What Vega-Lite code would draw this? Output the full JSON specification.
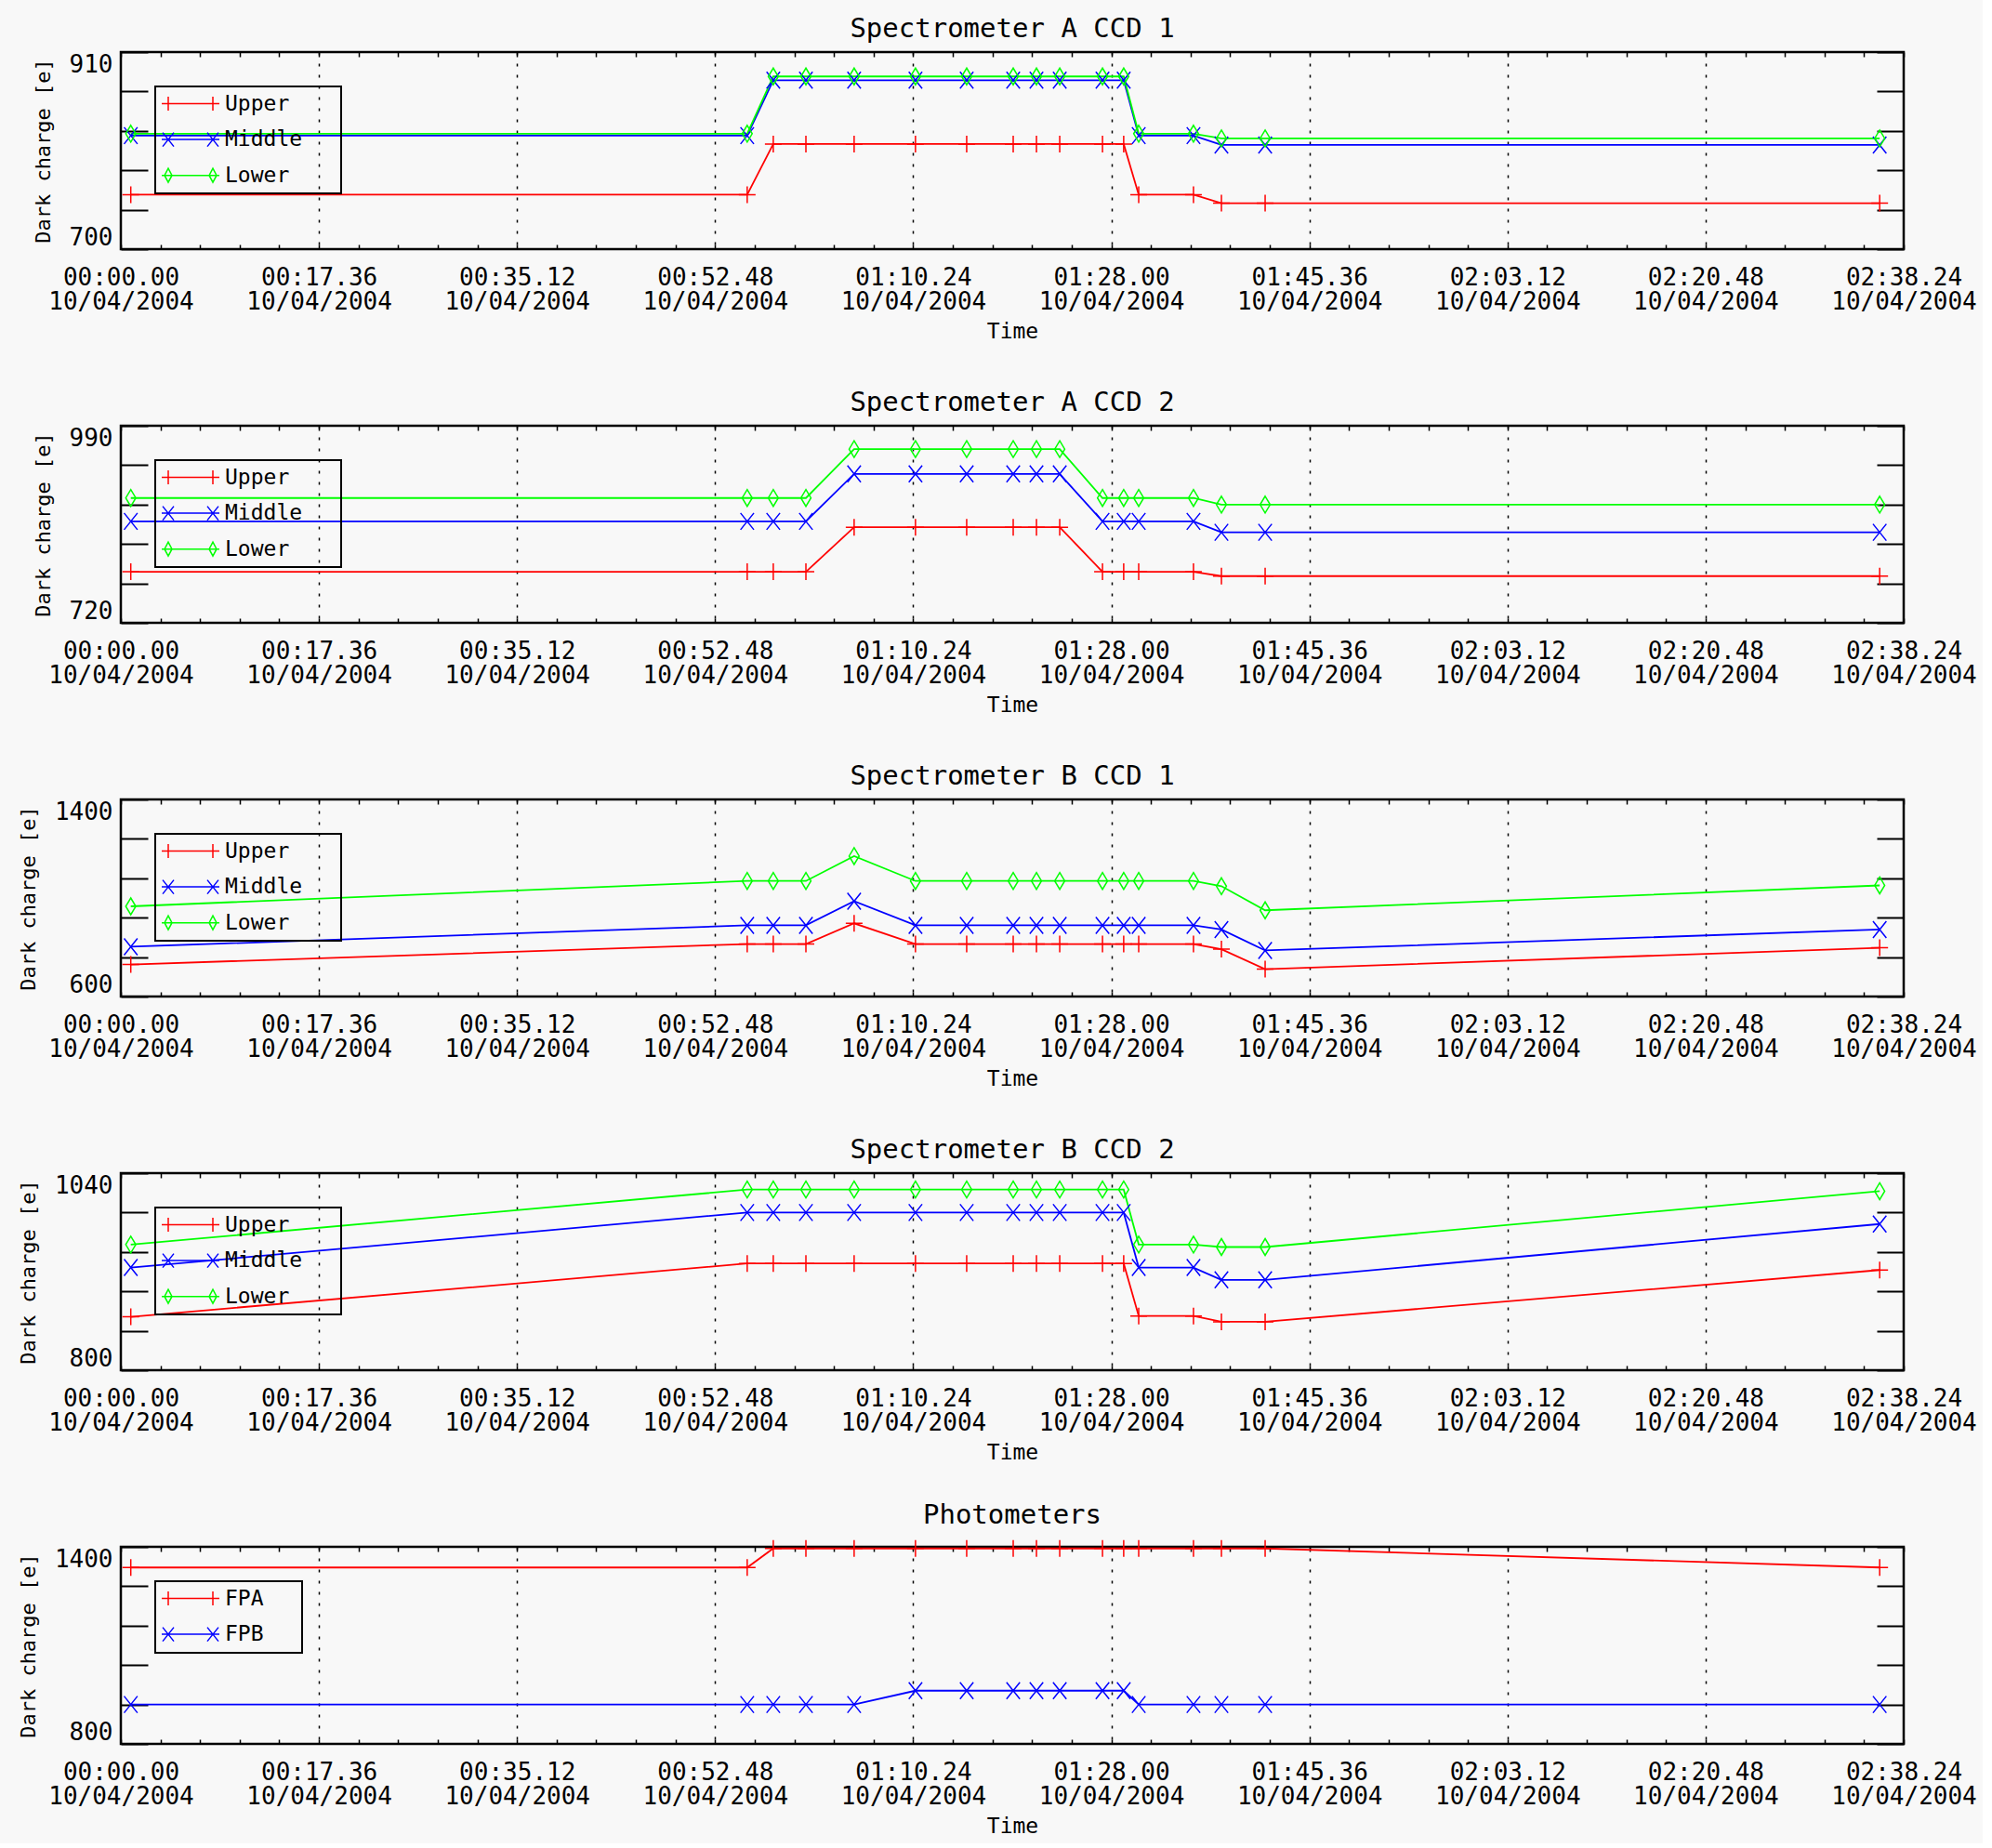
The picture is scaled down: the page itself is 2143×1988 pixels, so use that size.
{
  "$schema": "https://vega.github.io/schema/vega-lite/v6.json",
  "background": "#f8f8f8",
  "padding": {"left": 18, "top": 15, "right": 5, "bottom": 5},
  "bounds": "flush",
  "spacing": 190,
  "config": {
    "view": {"stroke": "black", "strokeWidth": 2.5},
    "font": "DejaVu Sans Mono",
    "axis": {"domain": false, "labelFont": "DejaVu Sans Mono", "labelFontSize": 26, "labelColor": "black", "titleFont": "DejaVu Sans Mono", "titleFontWeight": "normal", "titleColor": "black", "tickColor": "black", "grid": false},
    "legend": {"orient": "none", "legendX": 37, "legendY": 37, "title": null, "padding": 7, "rowPadding": 14.6, "labelOffset": 45, "labelFont": "DejaVu Sans Mono", "labelFontSize": 23, "labelColor": "black", "strokeColor": "black", "strokeWidth": 2, "symbolSize": 400, "symbolStrokeWidth": 1.5, "symbolOpacity": 1, "symbolFillColor": "transparent"},
    "title": {"font": "DejaVu Sans Mono", "fontSize": 29, "fontWeight": "normal", "color": "black", "anchor": "middle", "offset": 9}
  },
  "data": {"values": [
    {"p":"A1","s":"Upper","t":53,"v":758},{"p":"A1","s":"Upper","t":3339,"v":758},{"p":"A1","s":"Upper","t":3478,"v":812},{"p":"A1","s":"Upper","t":3652,"v":812},{"p":"A1","s":"Upper","t":3909,"v":812},{"p":"A1","s":"Upper","t":4236,"v":812},{"p":"A1","s":"Upper","t":4509,"v":812},{"p":"A1","s":"Upper","t":4757,"v":812},{"p":"A1","s":"Upper","t":4881,"v":812},{"p":"A1","s":"Upper","t":5005,"v":812},{"p":"A1","s":"Upper","t":5233,"v":812},{"p":"A1","s":"Upper","t":5346,"v":812},{"p":"A1","s":"Upper","t":5426,"v":758},{"p":"A1","s":"Upper","t":5718,"v":758},{"p":"A1","s":"Upper","t":5867,"v":749},{"p":"A1","s":"Upper","t":6100,"v":749},{"p":"A1","s":"Upper","t":9376,"v":749},
    {"p":"A1","s":"Middle","t":53,"v":821},{"p":"A1","s":"Middle","t":3339,"v":821},{"p":"A1","s":"Middle","t":3478,"v":880},{"p":"A1","s":"Middle","t":3652,"v":880},{"p":"A1","s":"Middle","t":3909,"v":880},{"p":"A1","s":"Middle","t":4236,"v":880},{"p":"A1","s":"Middle","t":4509,"v":880},{"p":"A1","s":"Middle","t":4757,"v":880},{"p":"A1","s":"Middle","t":4881,"v":880},{"p":"A1","s":"Middle","t":5005,"v":880},{"p":"A1","s":"Middle","t":5233,"v":880},{"p":"A1","s":"Middle","t":5346,"v":880},{"p":"A1","s":"Middle","t":5426,"v":821},{"p":"A1","s":"Middle","t":5718,"v":821},{"p":"A1","s":"Middle","t":5867,"v":811},{"p":"A1","s":"Middle","t":6100,"v":811},{"p":"A1","s":"Middle","t":9376,"v":811},
    {"p":"A1","s":"Lower","t":53,"v":823},{"p":"A1","s":"Lower","t":3339,"v":823},{"p":"A1","s":"Lower","t":3478,"v":884},{"p":"A1","s":"Lower","t":3652,"v":884},{"p":"A1","s":"Lower","t":3909,"v":884},{"p":"A1","s":"Lower","t":4236,"v":884},{"p":"A1","s":"Lower","t":4509,"v":884},{"p":"A1","s":"Lower","t":4757,"v":884},{"p":"A1","s":"Lower","t":4881,"v":884},{"p":"A1","s":"Lower","t":5005,"v":884},{"p":"A1","s":"Lower","t":5233,"v":884},{"p":"A1","s":"Lower","t":5346,"v":884},{"p":"A1","s":"Lower","t":5426,"v":823},{"p":"A1","s":"Lower","t":5718,"v":823},{"p":"A1","s":"Lower","t":5867,"v":818},{"p":"A1","s":"Lower","t":6100,"v":818},{"p":"A1","s":"Lower","t":9376,"v":818},
    {"p":"A2","s":"Upper","t":53,"v":790},{"p":"A2","s":"Upper","t":3339,"v":790},{"p":"A2","s":"Upper","t":3478,"v":790},{"p":"A2","s":"Upper","t":3652,"v":790},{"p":"A2","s":"Upper","t":3909,"v":851},{"p":"A2","s":"Upper","t":4236,"v":851},{"p":"A2","s":"Upper","t":4509,"v":851},{"p":"A2","s":"Upper","t":4757,"v":851},{"p":"A2","s":"Upper","t":4881,"v":851},{"p":"A2","s":"Upper","t":5005,"v":851},{"p":"A2","s":"Upper","t":5233,"v":790},{"p":"A2","s":"Upper","t":5346,"v":790},{"p":"A2","s":"Upper","t":5426,"v":790},{"p":"A2","s":"Upper","t":5718,"v":790},{"p":"A2","s":"Upper","t":5867,"v":784},{"p":"A2","s":"Upper","t":6100,"v":784},{"p":"A2","s":"Upper","t":9376,"v":784},
    {"p":"A2","s":"Middle","t":53,"v":859},{"p":"A2","s":"Middle","t":3339,"v":859},{"p":"A2","s":"Middle","t":3478,"v":859},{"p":"A2","s":"Middle","t":3652,"v":859},{"p":"A2","s":"Middle","t":3909,"v":924},{"p":"A2","s":"Middle","t":4236,"v":924},{"p":"A2","s":"Middle","t":4509,"v":924},{"p":"A2","s":"Middle","t":4757,"v":924},{"p":"A2","s":"Middle","t":4881,"v":924},{"p":"A2","s":"Middle","t":5005,"v":924},{"p":"A2","s":"Middle","t":5233,"v":859},{"p":"A2","s":"Middle","t":5346,"v":859},{"p":"A2","s":"Middle","t":5426,"v":859},{"p":"A2","s":"Middle","t":5718,"v":859},{"p":"A2","s":"Middle","t":5867,"v":844},{"p":"A2","s":"Middle","t":6100,"v":844},{"p":"A2","s":"Middle","t":9376,"v":844},
    {"p":"A2","s":"Lower","t":53,"v":891},{"p":"A2","s":"Lower","t":3339,"v":891},{"p":"A2","s":"Lower","t":3478,"v":891},{"p":"A2","s":"Lower","t":3652,"v":891},{"p":"A2","s":"Lower","t":3909,"v":958},{"p":"A2","s":"Lower","t":4236,"v":958},{"p":"A2","s":"Lower","t":4509,"v":958},{"p":"A2","s":"Lower","t":4757,"v":958},{"p":"A2","s":"Lower","t":4881,"v":958},{"p":"A2","s":"Lower","t":5005,"v":958},{"p":"A2","s":"Lower","t":5233,"v":891},{"p":"A2","s":"Lower","t":5346,"v":891},{"p":"A2","s":"Lower","t":5426,"v":891},{"p":"A2","s":"Lower","t":5718,"v":891},{"p":"A2","s":"Lower","t":5867,"v":882},{"p":"A2","s":"Lower","t":6100,"v":882},{"p":"A2","s":"Lower","t":9376,"v":882},
    {"p":"B1","s":"Upper","t":53,"v":730},{"p":"B1","s":"Upper","t":3339,"v":813},{"p":"B1","s":"Upper","t":3478,"v":813},{"p":"B1","s":"Upper","t":3652,"v":813},{"p":"B1","s":"Upper","t":3909,"v":897},{"p":"B1","s":"Upper","t":4236,"v":813},{"p":"B1","s":"Upper","t":4509,"v":813},{"p":"B1","s":"Upper","t":4757,"v":813},{"p":"B1","s":"Upper","t":4881,"v":813},{"p":"B1","s":"Upper","t":5005,"v":813},{"p":"B1","s":"Upper","t":5233,"v":813},{"p":"B1","s":"Upper","t":5346,"v":813},{"p":"B1","s":"Upper","t":5426,"v":813},{"p":"B1","s":"Upper","t":5718,"v":813},{"p":"B1","s":"Upper","t":5867,"v":792},{"p":"B1","s":"Upper","t":6100,"v":711},{"p":"B1","s":"Upper","t":9376,"v":798},
    {"p":"B1","s":"Middle","t":53,"v":802},{"p":"B1","s":"Middle","t":3339,"v":889},{"p":"B1","s":"Middle","t":3478,"v":889},{"p":"B1","s":"Middle","t":3652,"v":889},{"p":"B1","s":"Middle","t":3909,"v":987},{"p":"B1","s":"Middle","t":4236,"v":889},{"p":"B1","s":"Middle","t":4509,"v":889},{"p":"B1","s":"Middle","t":4757,"v":889},{"p":"B1","s":"Middle","t":4881,"v":889},{"p":"B1","s":"Middle","t":5005,"v":889},{"p":"B1","s":"Middle","t":5233,"v":889},{"p":"B1","s":"Middle","t":5346,"v":889},{"p":"B1","s":"Middle","t":5426,"v":889},{"p":"B1","s":"Middle","t":5718,"v":889},{"p":"B1","s":"Middle","t":5867,"v":872},{"p":"B1","s":"Middle","t":6100,"v":787},{"p":"B1","s":"Middle","t":9376,"v":872},
    {"p":"B1","s":"Lower","t":53,"v":966},{"p":"B1","s":"Lower","t":3339,"v":1069},{"p":"B1","s":"Lower","t":3478,"v":1069},{"p":"B1","s":"Lower","t":3652,"v":1069},{"p":"B1","s":"Lower","t":3909,"v":1170},{"p":"B1","s":"Lower","t":4236,"v":1069},{"p":"B1","s":"Lower","t":4509,"v":1069},{"p":"B1","s":"Lower","t":4757,"v":1069},{"p":"B1","s":"Lower","t":4881,"v":1069},{"p":"B1","s":"Lower","t":5005,"v":1069},{"p":"B1","s":"Lower","t":5233,"v":1069},{"p":"B1","s":"Lower","t":5346,"v":1069},{"p":"B1","s":"Lower","t":5426,"v":1069},{"p":"B1","s":"Lower","t":5718,"v":1069},{"p":"B1","s":"Lower","t":5867,"v":1048},{"p":"B1","s":"Lower","t":6100,"v":950},{"p":"B1","s":"Lower","t":9376,"v":1051},
    {"p":"B2","s":"Upper","t":53,"v":865},{"p":"B2","s":"Upper","t":3339,"v":930},{"p":"B2","s":"Upper","t":3478,"v":930},{"p":"B2","s":"Upper","t":3652,"v":930},{"p":"B2","s":"Upper","t":3909,"v":930},{"p":"B2","s":"Upper","t":4236,"v":930},{"p":"B2","s":"Upper","t":4509,"v":930},{"p":"B2","s":"Upper","t":4757,"v":930},{"p":"B2","s":"Upper","t":4881,"v":930},{"p":"B2","s":"Upper","t":5005,"v":930},{"p":"B2","s":"Upper","t":5233,"v":930},{"p":"B2","s":"Upper","t":5346,"v":930},{"p":"B2","s":"Upper","t":5426,"v":866},{"p":"B2","s":"Upper","t":5718,"v":866},{"p":"B2","s":"Upper","t":5867,"v":859},{"p":"B2","s":"Upper","t":6100,"v":859},{"p":"B2","s":"Upper","t":9376,"v":922},
    {"p":"B2","s":"Middle","t":53,"v":925},{"p":"B2","s":"Middle","t":3339,"v":992},{"p":"B2","s":"Middle","t":3478,"v":992},{"p":"B2","s":"Middle","t":3652,"v":992},{"p":"B2","s":"Middle","t":3909,"v":992},{"p":"B2","s":"Middle","t":4236,"v":992},{"p":"B2","s":"Middle","t":4509,"v":992},{"p":"B2","s":"Middle","t":4757,"v":992},{"p":"B2","s":"Middle","t":4881,"v":992},{"p":"B2","s":"Middle","t":5005,"v":992},{"p":"B2","s":"Middle","t":5233,"v":992},{"p":"B2","s":"Middle","t":5346,"v":992},{"p":"B2","s":"Middle","t":5426,"v":925},{"p":"B2","s":"Middle","t":5718,"v":925},{"p":"B2","s":"Middle","t":5867,"v":910},{"p":"B2","s":"Middle","t":6100,"v":910},{"p":"B2","s":"Middle","t":9376,"v":978},
    {"p":"B2","s":"Lower","t":53,"v":953},{"p":"B2","s":"Lower","t":3339,"v":1020},{"p":"B2","s":"Lower","t":3478,"v":1020},{"p":"B2","s":"Lower","t":3652,"v":1020},{"p":"B2","s":"Lower","t":3909,"v":1020},{"p":"B2","s":"Lower","t":4236,"v":1020},{"p":"B2","s":"Lower","t":4509,"v":1020},{"p":"B2","s":"Lower","t":4757,"v":1020},{"p":"B2","s":"Lower","t":4881,"v":1020},{"p":"B2","s":"Lower","t":5005,"v":1020},{"p":"B2","s":"Lower","t":5233,"v":1020},{"p":"B2","s":"Lower","t":5346,"v":1020},{"p":"B2","s":"Lower","t":5426,"v":953},{"p":"B2","s":"Lower","t":5718,"v":953},{"p":"B2","s":"Lower","t":5867,"v":950},{"p":"B2","s":"Lower","t":6100,"v":950},{"p":"B2","s":"Lower","t":9376,"v":1018},
    {"p":"P","s":"FPA","t":53,"v":1337},{"p":"P","s":"FPA","t":3339,"v":1337},{"p":"P","s":"FPA","t":3478,"v":1395},{"p":"P","s":"FPA","t":3652,"v":1395},{"p":"P","s":"FPA","t":3909,"v":1395},{"p":"P","s":"FPA","t":4236,"v":1395},{"p":"P","s":"FPA","t":4509,"v":1395},{"p":"P","s":"FPA","t":4757,"v":1395},{"p":"P","s":"FPA","t":4881,"v":1395},{"p":"P","s":"FPA","t":5005,"v":1395},{"p":"P","s":"FPA","t":5233,"v":1395},{"p":"P","s":"FPA","t":5346,"v":1395},{"p":"P","s":"FPA","t":5426,"v":1395},{"p":"P","s":"FPA","t":5718,"v":1395},{"p":"P","s":"FPA","t":5867,"v":1395},{"p":"P","s":"FPA","t":6100,"v":1395},{"p":"P","s":"FPA","t":9376,"v":1337},
    {"p":"P","s":"FPB","t":53,"v":920},{"p":"P","s":"FPB","t":3339,"v":920},{"p":"P","s":"FPB","t":3478,"v":920},{"p":"P","s":"FPB","t":3652,"v":920},{"p":"P","s":"FPB","t":3909,"v":920},{"p":"P","s":"FPB","t":4236,"v":962},{"p":"P","s":"FPB","t":4509,"v":962},{"p":"P","s":"FPB","t":4757,"v":962},{"p":"P","s":"FPB","t":4881,"v":962},{"p":"P","s":"FPB","t":5005,"v":962},{"p":"P","s":"FPB","t":5233,"v":962},{"p":"P","s":"FPB","t":5346,"v":962},{"p":"P","s":"FPB","t":5426,"v":920},{"p":"P","s":"FPB","t":5718,"v":920},{"p":"P","s":"FPB","t":5867,"v":920},{"p":"P","s":"FPB","t":6100,"v":920},{"p":"P","s":"FPB","t":9376,"v":920}
  ]},
  "resolve": {"scale": {"x": "independent", "y": "independent", "color": "independent", "shape": "independent"}, "legend": {"color": "independent", "shape": "independent"}},
  "vconcat": [
    {
      "title": "Spectrometer A CCD 1",
      "width": 1918, "height": 212,
      "transform": [{"filter": "datum.p === 'A1'"}],
      "layer": [
        {"mark": {"type": "line", "strokeWidth": 1.8},
         "encoding": {
           "x": {"field": "t", "type": "quantitative", "scale": {"domain": [0, 9504], "nice": false, "zero": false},
             "axis": {"orient": "bottom", "title": "Time", "titleFontSize": 23, "titlePadding": 8, "values": [0,211.2,422.4,633.6,844.8,1056,1267.2,1478.4,1689.6,1900.8,2112,2323.2,2534.4,2745.6,2956.8,3168,3379.2,3590.4,3801.6,4012.8,4224,4435.2,4646.4,4857.6,5068.8,5280,5491.2,5702.4,5913.6,6124.8,6336,6547.2,6758.4,6969.6,7180.8,7392,7603.2,7814.4,8025.6,8236.8,8448,8659.2,8870.4,9081.6,9292.8,9504],
               "labelExpr": "abs(datum.value/1056 - round(datum.value/1056)) < 0.001 ? [format(floor(datum.value/3600),'02d') + ':' + format(floor((datum.value%3600)/60),'02d') + '.' + format(round(datum.value%60),'02d'), '10/04/2004'] : ''",
               "labelFlush": false, "labelOverlap": false, "labelPadding": 22, "labelLineHeight": 26, "tickSize": -5, "tickWidth": 1.5,
               "grid": true, "gridColor": "black", "gridDash": [3, 9], "gridWidth": 1.5,
               "gridOpacity": {"condition": {"test": "abs(datum.value/1056 - round(datum.value/1056)) < 0.001 && datum.value > 1 && datum.value < 9500", "value": 1}, "value": 0}}},
           "y": {"field": "v", "type": "quantitative", "scale": {"domain": [700, 910], "nice": false, "zero": false},
             "axis": {"orient": "left", "title": "Dark charge [e]", "titleFontSize": 22, "titlePadding": 16, "values": [700, 742, 784, 826, 868, 910], "format": "d", "labelExpr": "datum.value === 700 || datum.value === 910 ? datum.label : ''", "labelFlush": true, "labelOverlap": false, "labelPadding": 38, "tickSize": -29, "tickWidth": 2}},
           "color": {"field": "s", "type": "nominal", "scale": {"domain": ["Upper", "Middle", "Lower"], "range": ["#ff0000", "#0000ff", "#00ff00"]}, "legend": null}
         }},
        {"mark": {"type": "point", "filled": false, "strokeWidth": 1.5, "size": 324, "opacity": 1},
         "encoding": {
           "x": {"field": "t", "type": "quantitative", "axis": {"orient": "top", "title": null, "labels": false, "values": [0,211.2,422.4,633.6,844.8,1056,1267.2,1478.4,1689.6,1900.8,2112,2323.2,2534.4,2745.6,2956.8,3168,3379.2,3590.4,3801.6,4012.8,4224,4435.2,4646.4,4857.6,5068.8,5280,5491.2,5702.4,5913.6,6124.8,6336,6547.2,6758.4,6969.6,7180.8,7392,7603.2,7814.4,8025.6,8236.8,8448,8659.2,8870.4,9081.6,9292.8,9504], "tickSize": -5, "tickWidth": 1.5}},
           "y": {"field": "v", "type": "quantitative", "axis": {"orient": "right", "title": null, "labels": false, "values": [700, 742, 784, 826, 868, 910], "tickSize": -29, "tickWidth": 2}},
           "color": {"field": "s", "type": "nominal", "legend": null},
           "shape": {"field": "s", "type": "nominal", "scale": {"domain": ["Upper", "Middle", "Lower"], "range": ["M-1,0L1,0M0,-1L0,1", "M-0.8,-1L0.8,1M-0.8,1L0.8,-1", "M0,-1L0.6,0L0,1L-0.6,0Z"]}, "legend": null}
         }},
        {"mark": {"type": "point", "filled": false, "strokeWidth": 1.5, "opacity": 0},
         "encoding": {
           "x": {"field": "t", "type": "quantitative", "axis": null},
           "y": {"field": "v", "type": "quantitative", "axis": null},
           "color": {"field": "s", "type": "nominal", "legend": {"labelExpr": "datum.label + '⠀⠀'", "encode": {"legend": {"update": {"stroke": {"value": "black"}, "strokeWidth": {"value": 2}}}}}},
           "shape": {"field": "s", "type": "nominal", "scale": {"domain": ["Upper", "Middle", "Lower"], "range": ["M-1.15,0L5.05,0M-0.45,-0.75L-0.45,0.75M4.35,-0.75L4.35,0.75", "M-1.15,0L5.05,0M-1.05,-0.75L0.15,0.75M-1.05,0.75L0.15,-0.75M3.75,-0.75L4.95,0.75M3.75,0.75L4.95,-0.75", "M-1.15,0L5.05,0M-0.45,-0.75L-0.05,0L-0.45,0.75L-0.85,0ZM4.35,-0.75L4.75,0L4.35,0.75L3.95,0Z"]}, "legend": {"labelExpr": "datum.label + '⠀⠀'", "encode": {"legend": {"update": {"stroke": {"value": "black"}, "strokeWidth": {"value": 2}}}}}}
         }}
      ],
      "resolve": {"scale": {"shape": "independent"}, "legend": {"color": "independent", "shape": "independent"}, "axis": {"x": "independent", "y": "independent"}}
    },
    {
      "title": "Spectrometer A CCD 2",
      "width": 1918, "height": 212,
      "transform": [{"filter": "datum.p === 'A2'"}],
      "layer": [
        {"mark": {"type": "line", "strokeWidth": 1.8},
         "encoding": {
           "x": {"field": "t", "type": "quantitative", "scale": {"domain": [0, 9504], "nice": false, "zero": false},
             "axis": {"orient": "bottom", "title": "Time", "titleFontSize": 23, "titlePadding": 8, "values": [0,211.2,422.4,633.6,844.8,1056,1267.2,1478.4,1689.6,1900.8,2112,2323.2,2534.4,2745.6,2956.8,3168,3379.2,3590.4,3801.6,4012.8,4224,4435.2,4646.4,4857.6,5068.8,5280,5491.2,5702.4,5913.6,6124.8,6336,6547.2,6758.4,6969.6,7180.8,7392,7603.2,7814.4,8025.6,8236.8,8448,8659.2,8870.4,9081.6,9292.8,9504],
               "labelExpr": "abs(datum.value/1056 - round(datum.value/1056)) < 0.001 ? [format(floor(datum.value/3600),'02d') + ':' + format(floor((datum.value%3600)/60),'02d') + '.' + format(round(datum.value%60),'02d'), '10/04/2004'] : ''",
               "labelFlush": false, "labelOverlap": false, "labelPadding": 22, "labelLineHeight": 26, "tickSize": -5, "tickWidth": 1.5,
               "grid": true, "gridColor": "black", "gridDash": [3, 9], "gridWidth": 1.5,
               "gridOpacity": {"condition": {"test": "abs(datum.value/1056 - round(datum.value/1056)) < 0.001 && datum.value > 1 && datum.value < 9500", "value": 1}, "value": 0}}},
           "y": {"field": "v", "type": "quantitative", "scale": {"domain": [720, 990], "nice": false, "zero": false},
             "axis": {"orient": "left", "title": "Dark charge [e]", "titleFontSize": 22, "titlePadding": 16, "values": [720, 774, 828, 882, 936, 990], "format": "d", "labelExpr": "datum.value === 720 || datum.value === 990 ? datum.label : ''", "labelFlush": true, "labelOverlap": false, "labelPadding": 38, "tickSize": -29, "tickWidth": 2}},
           "color": {"field": "s", "type": "nominal", "scale": {"domain": ["Upper", "Middle", "Lower"], "range": ["#ff0000", "#0000ff", "#00ff00"]}, "legend": null}
         }},
        {"mark": {"type": "point", "filled": false, "strokeWidth": 1.5, "size": 324, "opacity": 1},
         "encoding": {
           "x": {"field": "t", "type": "quantitative", "axis": {"orient": "top", "title": null, "labels": false, "values": [0,211.2,422.4,633.6,844.8,1056,1267.2,1478.4,1689.6,1900.8,2112,2323.2,2534.4,2745.6,2956.8,3168,3379.2,3590.4,3801.6,4012.8,4224,4435.2,4646.4,4857.6,5068.8,5280,5491.2,5702.4,5913.6,6124.8,6336,6547.2,6758.4,6969.6,7180.8,7392,7603.2,7814.4,8025.6,8236.8,8448,8659.2,8870.4,9081.6,9292.8,9504], "tickSize": -5, "tickWidth": 1.5}},
           "y": {"field": "v", "type": "quantitative", "axis": {"orient": "right", "title": null, "labels": false, "values": [720, 774, 828, 882, 936, 990], "tickSize": -29, "tickWidth": 2}},
           "color": {"field": "s", "type": "nominal", "legend": null},
           "shape": {"field": "s", "type": "nominal", "scale": {"domain": ["Upper", "Middle", "Lower"], "range": ["M-1,0L1,0M0,-1L0,1", "M-0.8,-1L0.8,1M-0.8,1L0.8,-1", "M0,-1L0.6,0L0,1L-0.6,0Z"]}, "legend": null}
         }},
        {"mark": {"type": "point", "filled": false, "strokeWidth": 1.5, "opacity": 0},
         "encoding": {
           "x": {"field": "t", "type": "quantitative", "axis": null},
           "y": {"field": "v", "type": "quantitative", "axis": null},
           "color": {"field": "s", "type": "nominal", "legend": {"labelExpr": "datum.label + '⠀⠀'", "encode": {"legend": {"update": {"stroke": {"value": "black"}, "strokeWidth": {"value": 2}}}}}},
           "shape": {"field": "s", "type": "nominal", "scale": {"domain": ["Upper", "Middle", "Lower"], "range": ["M-1.15,0L5.05,0M-0.45,-0.75L-0.45,0.75M4.35,-0.75L4.35,0.75", "M-1.15,0L5.05,0M-1.05,-0.75L0.15,0.75M-1.05,0.75L0.15,-0.75M3.75,-0.75L4.95,0.75M3.75,0.75L4.95,-0.75", "M-1.15,0L5.05,0M-0.45,-0.75L-0.05,0L-0.45,0.75L-0.85,0ZM4.35,-0.75L4.75,0L4.35,0.75L3.95,0Z"]}, "legend": {"labelExpr": "datum.label + '⠀⠀'", "encode": {"legend": {"update": {"stroke": {"value": "black"}, "strokeWidth": {"value": 2}}}}}}
         }}
      ],
      "resolve": {"scale": {"shape": "independent"}, "legend": {"color": "independent", "shape": "independent"}, "axis": {"x": "independent", "y": "independent"}}
    },
    {
      "title": "Spectrometer B CCD 1",
      "width": 1918, "height": 212,
      "transform": [{"filter": "datum.p === 'B1'"}],
      "layer": [
        {"mark": {"type": "line", "strokeWidth": 1.8},
         "encoding": {
           "x": {"field": "t", "type": "quantitative", "scale": {"domain": [0, 9504], "nice": false, "zero": false},
             "axis": {"orient": "bottom", "title": "Time", "titleFontSize": 23, "titlePadding": 8, "values": [0,211.2,422.4,633.6,844.8,1056,1267.2,1478.4,1689.6,1900.8,2112,2323.2,2534.4,2745.6,2956.8,3168,3379.2,3590.4,3801.6,4012.8,4224,4435.2,4646.4,4857.6,5068.8,5280,5491.2,5702.4,5913.6,6124.8,6336,6547.2,6758.4,6969.6,7180.8,7392,7603.2,7814.4,8025.6,8236.8,8448,8659.2,8870.4,9081.6,9292.8,9504],
               "labelExpr": "abs(datum.value/1056 - round(datum.value/1056)) < 0.001 ? [format(floor(datum.value/3600),'02d') + ':' + format(floor((datum.value%3600)/60),'02d') + '.' + format(round(datum.value%60),'02d'), '10/04/2004'] : ''",
               "labelFlush": false, "labelOverlap": false, "labelPadding": 22, "labelLineHeight": 26, "tickSize": -5, "tickWidth": 1.5,
               "grid": true, "gridColor": "black", "gridDash": [3, 9], "gridWidth": 1.5,
               "gridOpacity": {"condition": {"test": "abs(datum.value/1056 - round(datum.value/1056)) < 0.001 && datum.value > 1 && datum.value < 9500", "value": 1}, "value": 0}}},
           "y": {"field": "v", "type": "quantitative", "scale": {"domain": [600, 1400], "nice": false, "zero": false},
             "axis": {"orient": "left", "title": "Dark charge [e]", "titleFontSize": 22, "titlePadding": 16, "values": [600, 760, 920, 1080, 1240, 1400], "format": "d", "labelExpr": "datum.value === 600 || datum.value === 1400 ? datum.label : ''", "labelFlush": true, "labelOverlap": false, "labelPadding": 38, "tickSize": -29, "tickWidth": 2}},
           "color": {"field": "s", "type": "nominal", "scale": {"domain": ["Upper", "Middle", "Lower"], "range": ["#ff0000", "#0000ff", "#00ff00"]}, "legend": null}
         }},
        {"mark": {"type": "point", "filled": false, "strokeWidth": 1.5, "size": 324, "opacity": 1},
         "encoding": {
           "x": {"field": "t", "type": "quantitative", "axis": {"orient": "top", "title": null, "labels": false, "values": [0,211.2,422.4,633.6,844.8,1056,1267.2,1478.4,1689.6,1900.8,2112,2323.2,2534.4,2745.6,2956.8,3168,3379.2,3590.4,3801.6,4012.8,4224,4435.2,4646.4,4857.6,5068.8,5280,5491.2,5702.4,5913.6,6124.8,6336,6547.2,6758.4,6969.6,7180.8,7392,7603.2,7814.4,8025.6,8236.8,8448,8659.2,8870.4,9081.6,9292.8,9504], "tickSize": -5, "tickWidth": 1.5}},
           "y": {"field": "v", "type": "quantitative", "axis": {"orient": "right", "title": null, "labels": false, "values": [600, 760, 920, 1080, 1240, 1400], "tickSize": -29, "tickWidth": 2}},
           "color": {"field": "s", "type": "nominal", "legend": null},
           "shape": {"field": "s", "type": "nominal", "scale": {"domain": ["Upper", "Middle", "Lower"], "range": ["M-1,0L1,0M0,-1L0,1", "M-0.8,-1L0.8,1M-0.8,1L0.8,-1", "M0,-1L0.6,0L0,1L-0.6,0Z"]}, "legend": null}
         }},
        {"mark": {"type": "point", "filled": false, "strokeWidth": 1.5, "opacity": 0},
         "encoding": {
           "x": {"field": "t", "type": "quantitative", "axis": null},
           "y": {"field": "v", "type": "quantitative", "axis": null},
           "color": {"field": "s", "type": "nominal", "legend": {"labelExpr": "datum.label + '⠀⠀'", "encode": {"legend": {"update": {"stroke": {"value": "black"}, "strokeWidth": {"value": 2}}}}}},
           "shape": {"field": "s", "type": "nominal", "scale": {"domain": ["Upper", "Middle", "Lower"], "range": ["M-1.15,0L5.05,0M-0.45,-0.75L-0.45,0.75M4.35,-0.75L4.35,0.75", "M-1.15,0L5.05,0M-1.05,-0.75L0.15,0.75M-1.05,0.75L0.15,-0.75M3.75,-0.75L4.95,0.75M3.75,0.75L4.95,-0.75", "M-1.15,0L5.05,0M-0.45,-0.75L-0.05,0L-0.45,0.75L-0.85,0ZM4.35,-0.75L4.75,0L4.35,0.75L3.95,0Z"]}, "legend": {"labelExpr": "datum.label + '⠀⠀'", "encode": {"legend": {"update": {"stroke": {"value": "black"}, "strokeWidth": {"value": 2}}}}}}
         }}
      ],
      "resolve": {"scale": {"shape": "independent"}, "legend": {"color": "independent", "shape": "independent"}, "axis": {"x": "independent", "y": "independent"}}
    },
    {
      "title": "Spectrometer B CCD 2",
      "width": 1918, "height": 212,
      "transform": [{"filter": "datum.p === 'B2'"}],
      "layer": [
        {"mark": {"type": "line", "strokeWidth": 1.8},
         "encoding": {
           "x": {"field": "t", "type": "quantitative", "scale": {"domain": [0, 9504], "nice": false, "zero": false},
             "axis": {"orient": "bottom", "title": "Time", "titleFontSize": 23, "titlePadding": 8, "values": [0,211.2,422.4,633.6,844.8,1056,1267.2,1478.4,1689.6,1900.8,2112,2323.2,2534.4,2745.6,2956.8,3168,3379.2,3590.4,3801.6,4012.8,4224,4435.2,4646.4,4857.6,5068.8,5280,5491.2,5702.4,5913.6,6124.8,6336,6547.2,6758.4,6969.6,7180.8,7392,7603.2,7814.4,8025.6,8236.8,8448,8659.2,8870.4,9081.6,9292.8,9504],
               "labelExpr": "abs(datum.value/1056 - round(datum.value/1056)) < 0.001 ? [format(floor(datum.value/3600),'02d') + ':' + format(floor((datum.value%3600)/60),'02d') + '.' + format(round(datum.value%60),'02d'), '10/04/2004'] : ''",
               "labelFlush": false, "labelOverlap": false, "labelPadding": 22, "labelLineHeight": 26, "tickSize": -5, "tickWidth": 1.5,
               "grid": true, "gridColor": "black", "gridDash": [3, 9], "gridWidth": 1.5,
               "gridOpacity": {"condition": {"test": "abs(datum.value/1056 - round(datum.value/1056)) < 0.001 && datum.value > 1 && datum.value < 9500", "value": 1}, "value": 0}}},
           "y": {"field": "v", "type": "quantitative", "scale": {"domain": [800, 1040], "nice": false, "zero": false},
             "axis": {"orient": "left", "title": "Dark charge [e]", "titleFontSize": 22, "titlePadding": 16, "values": [800, 848, 896, 944, 992, 1040], "format": "d", "labelExpr": "datum.value === 800 || datum.value === 1040 ? datum.label : ''", "labelFlush": true, "labelOverlap": false, "labelPadding": 38, "tickSize": -29, "tickWidth": 2}},
           "color": {"field": "s", "type": "nominal", "scale": {"domain": ["Upper", "Middle", "Lower"], "range": ["#ff0000", "#0000ff", "#00ff00"]}, "legend": null}
         }},
        {"mark": {"type": "point", "filled": false, "strokeWidth": 1.5, "size": 324, "opacity": 1},
         "encoding": {
           "x": {"field": "t", "type": "quantitative", "axis": {"orient": "top", "title": null, "labels": false, "values": [0,211.2,422.4,633.6,844.8,1056,1267.2,1478.4,1689.6,1900.8,2112,2323.2,2534.4,2745.6,2956.8,3168,3379.2,3590.4,3801.6,4012.8,4224,4435.2,4646.4,4857.6,5068.8,5280,5491.2,5702.4,5913.6,6124.8,6336,6547.2,6758.4,6969.6,7180.8,7392,7603.2,7814.4,8025.6,8236.8,8448,8659.2,8870.4,9081.6,9292.8,9504], "tickSize": -5, "tickWidth": 1.5}},
           "y": {"field": "v", "type": "quantitative", "axis": {"orient": "right", "title": null, "labels": false, "values": [800, 848, 896, 944, 992, 1040], "tickSize": -29, "tickWidth": 2}},
           "color": {"field": "s", "type": "nominal", "legend": null},
           "shape": {"field": "s", "type": "nominal", "scale": {"domain": ["Upper", "Middle", "Lower"], "range": ["M-1,0L1,0M0,-1L0,1", "M-0.8,-1L0.8,1M-0.8,1L0.8,-1", "M0,-1L0.6,0L0,1L-0.6,0Z"]}, "legend": null}
         }},
        {"mark": {"type": "point", "filled": false, "strokeWidth": 1.5, "opacity": 0},
         "encoding": {
           "x": {"field": "t", "type": "quantitative", "axis": null},
           "y": {"field": "v", "type": "quantitative", "axis": null},
           "color": {"field": "s", "type": "nominal", "legend": {"labelExpr": "datum.label + '⠀⠀'", "encode": {"legend": {"update": {"stroke": {"value": "black"}, "strokeWidth": {"value": 2}}}}}},
           "shape": {"field": "s", "type": "nominal", "scale": {"domain": ["Upper", "Middle", "Lower"], "range": ["M-1.15,0L5.05,0M-0.45,-0.75L-0.45,0.75M4.35,-0.75L4.35,0.75", "M-1.15,0L5.05,0M-1.05,-0.75L0.15,0.75M-1.05,0.75L0.15,-0.75M3.75,-0.75L4.95,0.75M3.75,0.75L4.95,-0.75", "M-1.15,0L5.05,0M-0.45,-0.75L-0.05,0L-0.45,0.75L-0.85,0ZM4.35,-0.75L4.75,0L4.35,0.75L3.95,0Z"]}, "legend": {"labelExpr": "datum.label + '⠀⠀'", "encode": {"legend": {"update": {"stroke": {"value": "black"}, "strokeWidth": {"value": 2}}}}}}
         }}
      ],
      "resolve": {"scale": {"shape": "independent"}, "legend": {"color": "independent", "shape": "independent"}, "axis": {"x": "independent", "y": "independent"}}
    },
    {
      "title": "Photometers",
      "width": 1918, "height": 212,
      "transform": [{"filter": "datum.p === 'P'"}],
      "layer": [
        {"mark": {"type": "line", "strokeWidth": 1.8},
         "encoding": {
           "x": {"field": "t", "type": "quantitative", "scale": {"domain": [0, 9504], "nice": false, "zero": false},
             "axis": {"orient": "bottom", "title": "Time", "titleFontSize": 23, "titlePadding": 8, "values": [0,211.2,422.4,633.6,844.8,1056,1267.2,1478.4,1689.6,1900.8,2112,2323.2,2534.4,2745.6,2956.8,3168,3379.2,3590.4,3801.6,4012.8,4224,4435.2,4646.4,4857.6,5068.8,5280,5491.2,5702.4,5913.6,6124.8,6336,6547.2,6758.4,6969.6,7180.8,7392,7603.2,7814.4,8025.6,8236.8,8448,8659.2,8870.4,9081.6,9292.8,9504],
               "labelExpr": "abs(datum.value/1056 - round(datum.value/1056)) < 0.001 ? [format(floor(datum.value/3600),'02d') + ':' + format(floor((datum.value%3600)/60),'02d') + '.' + format(round(datum.value%60),'02d'), '10/04/2004'] : ''",
               "labelFlush": false, "labelOverlap": false, "labelPadding": 22, "labelLineHeight": 26, "tickSize": -5, "tickWidth": 1.5,
               "grid": true, "gridColor": "black", "gridDash": [3, 9], "gridWidth": 1.5,
               "gridOpacity": {"condition": {"test": "abs(datum.value/1056 - round(datum.value/1056)) < 0.001 && datum.value > 1 && datum.value < 9500", "value": 1}, "value": 0}}},
           "y": {"field": "v", "type": "quantitative", "scale": {"domain": [800, 1400], "nice": false, "zero": false},
             "axis": {"orient": "left", "title": "Dark charge [e]", "titleFontSize": 22, "titlePadding": 16, "values": [800, 920, 1040, 1160, 1280, 1400], "format": "d", "labelExpr": "datum.value === 800 || datum.value === 1400 ? datum.label : ''", "labelFlush": true, "labelOverlap": false, "labelPadding": 38, "tickSize": -29, "tickWidth": 2}},
           "color": {"field": "s", "type": "nominal", "scale": {"domain": ["FPA", "FPB"], "range": ["#ff0000", "#0000ff"]}, "legend": null}
         }},
        {"mark": {"type": "point", "filled": false, "strokeWidth": 1.5, "size": 324, "opacity": 1},
         "encoding": {
           "x": {"field": "t", "type": "quantitative", "axis": {"orient": "top", "title": null, "labels": false, "values": [0,211.2,422.4,633.6,844.8,1056,1267.2,1478.4,1689.6,1900.8,2112,2323.2,2534.4,2745.6,2956.8,3168,3379.2,3590.4,3801.6,4012.8,4224,4435.2,4646.4,4857.6,5068.8,5280,5491.2,5702.4,5913.6,6124.8,6336,6547.2,6758.4,6969.6,7180.8,7392,7603.2,7814.4,8025.6,8236.8,8448,8659.2,8870.4,9081.6,9292.8,9504], "tickSize": -5, "tickWidth": 1.5}},
           "y": {"field": "v", "type": "quantitative", "axis": {"orient": "right", "title": null, "labels": false, "values": [800, 920, 1040, 1160, 1280, 1400], "tickSize": -29, "tickWidth": 2}},
           "color": {"field": "s", "type": "nominal", "legend": null},
           "shape": {"field": "s", "type": "nominal", "scale": {"domain": ["FPA", "FPB"], "range": ["M-1,0L1,0M0,-1L0,1", "M-0.8,-1L0.8,1M-0.8,1L0.8,-1"]}, "legend": null}
         }},
        {"mark": {"type": "point", "filled": false, "strokeWidth": 1.5, "opacity": 0},
         "encoding": {
           "x": {"field": "t", "type": "quantitative", "axis": null},
           "y": {"field": "v", "type": "quantitative", "axis": null},
           "color": {"field": "s", "type": "nominal", "legend": {"labelExpr": "datum.label + '⠀⠀'", "encode": {"legend": {"update": {"stroke": {"value": "black"}, "strokeWidth": {"value": 2}}}}}},
           "shape": {"field": "s", "type": "nominal", "scale": {"domain": ["FPA", "FPB"], "range": ["M-1.15,0L5.05,0M-0.45,-0.75L-0.45,0.75M4.35,-0.75L4.35,0.75", "M-1.15,0L5.05,0M-1.05,-0.75L0.15,0.75M-1.05,0.75L0.15,-0.75M3.75,-0.75L4.95,0.75M3.75,0.75L4.95,-0.75"]}, "legend": {"labelExpr": "datum.label + '⠀⠀'", "encode": {"legend": {"update": {"stroke": {"value": "black"}, "strokeWidth": {"value": 2}}}}}}
         }}
      ],
      "resolve": {"scale": {"shape": "independent"}, "legend": {"color": "independent", "shape": "independent"}, "axis": {"x": "independent", "y": "independent"}}
    }
  ]
}
